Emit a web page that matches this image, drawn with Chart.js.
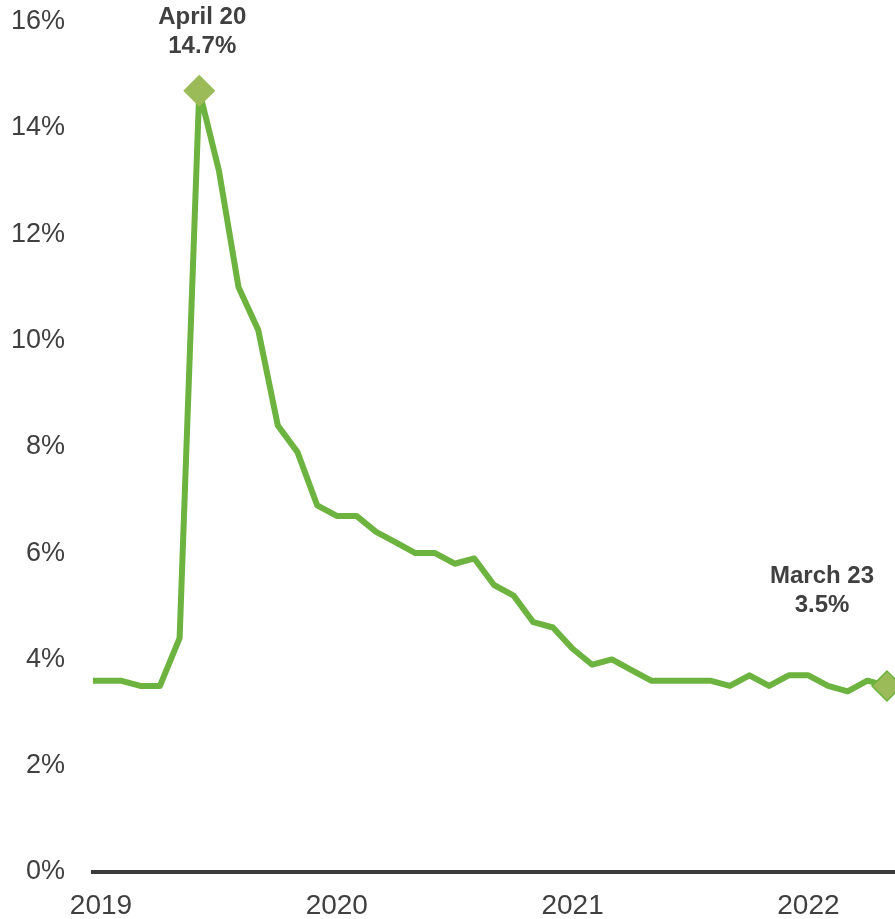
<!DOCTYPE html>
<html>
<head>
<meta charset="utf-8">
<script src="https://cdn.jsdelivr.net/npm/chart.js@4"></script>
<style>
  html, body { margin: 0; padding: 0; background: #fff; overflow: hidden; }
  #wrap { position: relative; width: 895px; height: 919px; }
  canvas { display: block; }
</style>
</head>
<body>
<div id="wrap"><canvas id="rateChart"></canvas></div>
<script>
const months = [
  'Oct 2019', 'Nov 2019', 'Dec 2019',
  'Jan 2020', 'Feb 2020', 'Mar 2020', 'Apr 2020', 'May 2020', 'Jun 2020',
  'Jul 2020', 'Aug 2020', 'Sep 2020', 'Oct 2020', 'Nov 2020', 'Dec 2020',
  'Jan 2021', 'Feb 2021', 'Mar 2021', 'Apr 2021', 'May 2021', 'Jun 2021',
  'Jul 2021', 'Aug 2021', 'Sep 2021', 'Oct 2021', 'Nov 2021', 'Dec 2021',
  'Jan 2022', 'Feb 2022', 'Mar 2022', 'Apr 2022', 'May 2022', 'Jun 2022',
  'Jul 2022', 'Aug 2022', 'Sep 2022', 'Oct 2022', 'Nov 2022', 'Dec 2022',
  'Jan 2023', 'Feb 2023', 'Mar 2023'
];
const rates = [
  3.6, 3.6, 3.6,
  3.5, 3.5, 4.4, 14.7, 13.2, 11.0,
  10.2, 8.4, 7.9, 6.9, 6.7, 6.7,
  6.4, 6.2, 6.0, 6.0, 5.8, 5.9,
  5.4, 5.2, 4.7, 4.6, 4.2, 3.9,
  4.0, 3.8, 3.6, 3.6, 3.6, 3.6,
  3.5, 3.7, 3.5, 3.7, 3.7, 3.5,
  3.4, 3.6, 3.5
];
const yearLabels = ['2019', '2020', '2021', '2022'];
const yearTickMonths = ['Nov 2019', 'Nov 2020', 'Nov 2021', 'Nov 2022'];
const callouts = [
  { month: 'Apr 2020', title: 'April 20', value: '14.7%', dx: 3, dy: -73 },
  { month: 'Mar 2023', title: 'March 23', value: '3.5%', dx: -65, dy: -110 }
];

const textColor = '#404040';
const lineGreen = '#6db33f';
const markerGreen = '#9bbb59';

const points = rates.map((v, i) => ({ x: i, y: v }));
const markIdx = callouts.map(c => months.indexOf(c.month));
const tickIdx = yearTickMonths.map(m => months.indexOf(m));

const calloutPlugin = {
  id: 'callouts',
  afterDatasetsDraw(chart) {
    const ctx = chart.ctx;
    const meta = chart.getDatasetMeta(0);
    ctx.save();
    ctx.fillStyle = textColor;
    ctx.font = 'bold 24px "Liberation Sans", Arial, sans-serif';
    ctx.textAlign = 'center';
    ctx.textBaseline = 'middle';
    callouts.forEach((c, k) => {
      const el = meta.data[markIdx[k]];
      const x = el.x + c.dx;
      const y = el.y + c.dy;
      ctx.fillText(c.title, x, y);
      ctx.fillText(c.value, x, y + 29);
    });
    ctx.restore();
  }
};

const ctx = document.getElementById('rateChart').getContext('2d');
new Chart(ctx, {
  type: 'line',
  data: {
    datasets: [{
      label: 'Rate',
      data: points,
      borderColor: lineGreen,
      borderWidth: 6,
      borderJoinStyle: 'round',
      tension: 0,
      clip: { left: 0, top: false, right: false, bottom: false },
      pointStyle: 'rectRot',
      pointRadius: c => markIdx.includes(c.dataIndex) ? 15 : 0,
      pointHoverRadius: c => markIdx.includes(c.dataIndex) ? 15 : 0,
      pointBackgroundColor: markerGreen,
      pointBorderColor: c => c.dataIndex === markIdx[1] ? lineGreen : markerGreen,
      pointBorderWidth: 1.5
    }]
  },
  options: {
    responsive: true,
    maintainAspectRatio: false,
    animation: false,
    layout: { autoPadding: false, padding: { top: 21.6, right: 0, left: 0, bottom: 0 } },
    plugins: {
      legend: { display: false },
      tooltip: { enabled: false }
    },
    scales: {
      x: {
        type: 'linear',
        min: 0.593,
        max: 41.407,
        grid: { display: false, drawTicks: false },
        border: { display: true, color: '#3a3a3a', width: 4 },
        afterBuildTicks: scale => {
          scale.ticks = tickIdx.map(v => ({ value: v }));
        },
        afterFit: scale => { scale.height = 47; },
        ticks: {
          padding: 17,
          color: textColor,
          font: { family: '"Liberation Sans", Arial, sans-serif', size: 28 },
          maxRotation: 0,
          autoSkip: false,
          callback: v => yearLabels[tickIdx.indexOf(v)]
        }
      },
      y: {
        min: 0,
        max: 16,
        grid: { display: false, drawTicks: false },
        border: { display: false },
        afterFit: scale => {
          scale.width = 93;
          scale.paddingTop = 0;
          scale.paddingBottom = 0;
        },
        ticks: {
          stepSize: 2,
          padding: 28,
          color: textColor,
          font: { family: '"Liberation Sans", Arial, sans-serif', size: 27 },
          callback: v => v + '%'
        }
      }
    }
  },
  plugins: [calloutPlugin]
});
</script>
</body>
</html>
